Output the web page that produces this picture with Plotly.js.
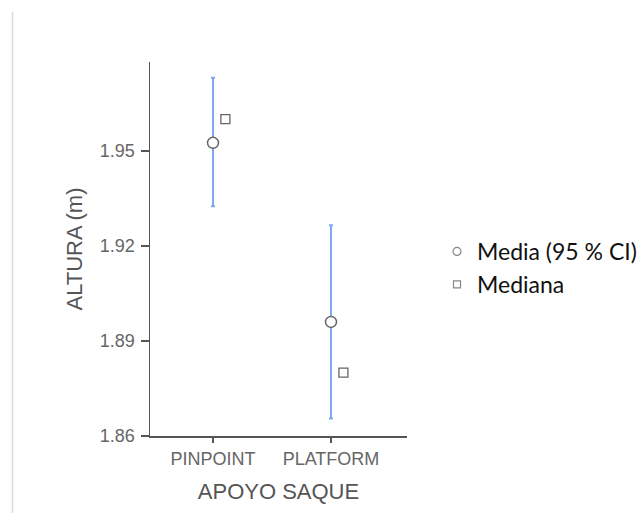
<!DOCTYPE html>
<html>
<head>
<meta charset="utf-8">
<script src="https://cdn.plot.ly/plotly-3.0.1.min.js"></script>
<style>html,body{margin:0;padding:0;background:#fff;}</style>
</head>
<body>
<div id="chart" style="width:643px;height:513px;"></div>
<script>
var categories = ["PINPOINT", "PLATFORM"];
var catIndex = [0, 1];
var meanValues = [1.9525, 1.896];
var ciUpper = [1.973, 1.9265];
var ciLower = [1.9325, 1.8655];
var medianValues = [1.960, 1.880];
var yTicks = [1.86, 1.89, 1.92, 1.95];
var seriesNames = ["Media (95 % CI)", "Mediana"];

var medianOffset = 0.105;
var errPlus = meanValues.map(function(m, i){ return ciUpper[i] - m; });
var errMinus = meanValues.map(function(m, i){ return m - ciLower[i]; });
var medianX = catIndex.map(function(c){ return c + medianOffset; });

var circleLine = {color: '#666666', width: 1.5};
var squareLine = {color: '#666666', width: 1.3};

var traces = [
  {
    x: catIndex, y: meanValues, type: 'scatter', mode: 'markers',
    name: seriesNames[0], showlegend: false,
    marker: {symbol: 'circle', size: 11, color: '#ffffff', line: circleLine},
    error_y: {type: 'data', symmetric: false, array: errPlus, arrayminus: errMinus,
              color: '#7fa8ef', thickness: 2, width: 2},
    cliponaxis: false
  },
  {
    x: medianX, y: medianValues, type: 'scatter', mode: 'markers',
    name: seriesNames[1], showlegend: false,
    marker: {symbol: 'square', size: 9, color: '#ffffff', line: squareLine},
    cliponaxis: false
  },
  {
    x: [null], y: [null], type: 'scatter', mode: 'markers', name: seriesNames[0],
    marker: {symbol: 'circle', size: 8, color: '#ffffff', line: {color: '#888888', width: 1.2}}
  },
  {
    x: [null], y: [null], type: 'scatter', mode: 'markers', name: seriesNames[1],
    marker: {symbol: 'square', size: 7, color: '#ffffff', line: {color: '#888888', width: 1.2}}
  }
];

var W = 643, H = 513;
var L = 150, R = 236, T = 62, B = 77;
var plotW = W - L - R;
var plotH = H - T - B;
var axisFont = '"Liberation Sans", Arial, sans-serif';

var layout = {
  width: W, height: H,
  margin: {l: L, r: R, t: T, b: B, pad: 0},
  paper_bgcolor: '#ffffff', plot_bgcolor: '#ffffff',
  showlegend: true,
  legend: {
    xref: 'container', yref: 'container',
    x: 437 / W, xanchor: 'left', y: (H - 268) / H, yanchor: 'middle',
    font: {family: 'Lato, "Open Sans", sans-serif', size: 23, color: '#111111'},
    bgcolor: 'rgba(0,0,0,0)', itemwidth: 30, tracegroupgap: 0
  },
  xaxis: {
    range: [-0.534, 1.644],
    tickvals: catIndex, ticktext: categories,
    showgrid: false, zeroline: false,
    showline: true, linecolor: '#555555', linewidth: 1.5,
    ticks: 'outside', ticklen: 5, tickwidth: 1.5, tickcolor: '#555555',
    ticklabelstandoff: 1,
    tickfont: {family: axisFont, size: 18, color: '#666666'},
    title: {text: 'APOYO SAQUE', standoff: 15,
            font: {family: axisFont, size: 22, color: '#555555'}}
  },
  yaxis: {
    range: [1.86, 1.978],
    tickvals: yTicks, ticktext: yTicks.map(function(v){ return v.toFixed(2); }),
    showgrid: false, zeroline: false,
    showline: true, linecolor: '#555555', linewidth: 1.5,
    ticks: 'outside', ticklen: 8, tickwidth: 1.5, tickcolor: '#555555',
    ticklabelstandoff: 2,
    tickfont: {family: axisFont, size: 18, color: '#666666'},
    title: {text: 'ALTURA (m)', standoff: 11,
            font: {family: axisFont, size: 22, color: '#555555'}}
  },
  shapes: [
    {type: 'line', xref: 'paper', yref: 'paper',
     x0: (12.5 - L) / plotW, x1: (12.5 - L) / plotW,
     y0: -B / plotH, y1: (H - B - 12) / plotH,
     line: {color: '#d9d9d9', width: 1.5}}
  ]
};

Plotly.newPlot('chart', traces, layout, {displayModeBar: false, staticPlot: true});
</script>
</body>
</html>
